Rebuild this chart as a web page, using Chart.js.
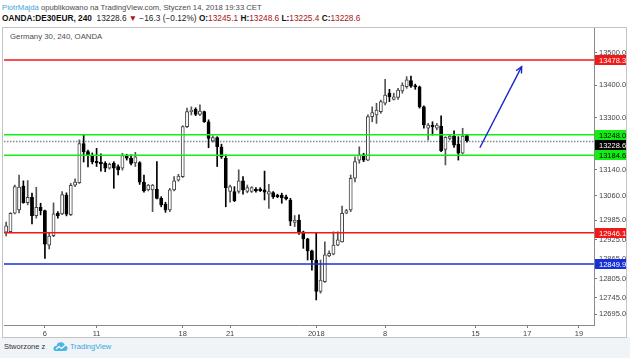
<!DOCTYPE html>
<html><head><meta charset="utf-8">
<script src="https://cdn.jsdelivr.net/npm/chart.js@4/dist/chart.umd.min.js"></script>
<style>
html,body{margin:0;padding:0;background:#fff;width:630px;height:358px;overflow:hidden;font-family:"Liberation Sans",Arial,sans-serif;}
.t{position:absolute;white-space:nowrap;line-height:1;}
#h1{left:2px;top:4px;font-size:7.7px;color:#4a4a4a;}
#h2{left:2px;top:14px;font-size:8.3px;color:#222;}
#h2 b{font-weight:bold;color:#111;}
.r{color:#a51515;}
#title{left:10px;top:33px;font-size:7.8px;color:#4d4d4d;}
#frame{position:absolute;left:2px;top:27px;width:623px;height:309px;border:1px solid #c3c3c3;}
#foot{position:absolute;left:0;top:337px;width:630px;height:21px;background:#f0f3f7;}
#f1{left:4px;top:343px;font-size:7.5px;color:#333;}
#f2{left:70px;top:343px;font-size:7.5px;color:#38a8de;}
#logo{position:absolute;left:53px;top:341px;}
canvas{position:absolute;left:0;top:0;}
</style></head>
<body>
<div id="foot"></div>
<div id="frame"></div>
<div class="t" id="h1"><span style="color:#3aa3dc">PiotrMajda</span> opublikowano na TradingView.com, Styczeń 14, 2018 19:33 CET</div>
<div class="t" id="h2"><b>OANDA:DE30EUR, 240</b>&nbsp; 13228.6 <span class="r">▼</span> −16.3 (−0.12%) <b>O:</b><span class="r">13245.1</span> <b>H:</b><span class="r">13248.6</span> <b>L:</b><span class="r">13225.4</span> <b>C:</b><span class="r">13228.6</span></div>
<div class="t" id="title">Germany 30, 240, OANDA</div>
<div class="t" id="f1">Stworzone z</div>
<svg id="logo" width="15" height="11" viewBox="0 0 15 11"><path d="M3 10 Q0 10 0.5 7 Q1 4.5 3.5 5 Q4 1 8 1.2 Q11.5 1.5 11.8 4.8 Q14.8 5 14.5 7.8 Q14 10 12 10 Z" fill="#4bb5e6"/><path d="M3 8 L6 5.5 L8.5 7.5 L12 4.5" stroke="#fff" stroke-width="1.2" fill="none"/></svg>
<div class="t" id="f2">TradingView</div>
<canvas id="c" width="630" height="358"></canvas>
<script>
// ---- data ----
const candleOpen = [12948,12949,13006,13016,13090,13039,13055,12999,13024,13014,12908,12937,13006,13004,13062,13002,13093,13100,13221,13196,13182,13166,13164,13160,13145,13161,13150,13145,13184,13176,13161,13162,13102,13078,13078,13080,13052,13034,13016,13078,13108,13119,13273,13319,13326,13311,13319,13288,13229,13239,13211,13176,13073,13073,13073,13106,13073,13073,13080,13078,13078,13065,13070,13062,13062,13057,13047,12978,12984,12949,12927,12890,12862,12765,12795,12875,12880,12908,12918,13006,13016,13114,13170,13186,13170,13304,13309,13319,13345,13376,13357,13363,13383,13396,13415,13398,13396,13334,13268,13278,13268,13275,13203,13237,13244,13219,13191,13245.1];
const candleHigh = [12979,13008,13093,13124,13106,13107,13068,13086,13037,13016,12947,13038,13011,13073,13069,13098,13112,13232,13249,13201,13192,13206,13189,13165,13161,13165,13155,13191,13188,13186,13194,13165,13124,13095,13095,13165,13057,13040,13083,13119,13126,13276,13330,13334,13331,13340,13321,13294,13245,13242,13219,13186,13093,13088,13140,13119,13093,13088,13085,13085,13136,13095,13073,13065,13068,13062,13052,12999,13001,12951,12929,12893,12947,12862,12918,12890,12949,12949,13028,13018,13124,13180,13211,13191,13309,13334,13345,13355,13419,13388,13376,13391,13408,13427,13429,13404,13398,13337,13283,13288,13283,13306,13242,13247,13260,13242,13268,13248.6];
const candleLow = [12936,12946,13004,13007,13037,13032,12973,12991,13001,12867,12896,12934,12991,13002,12998,12999,13088,13098,13164,13149,13158,13150,13136,13134,13142,13083,13124,13139,13170,13155,13150,13095,13071,13075,13011,13050,13026,13009,13011,13075,13105,13116,13270,13309,13307,13307,13286,13208,13225,13150,13175,13026,13040,13042,13068,13065,13069,13070,13071,13073,13047,13021,13052,13054,13037,13047,12968,12965,12941,12898,12862,12831,12739,12760,12793,12872,12878,12906,12917,13005,13011,13103,13160,13165,13168,13288,13283,13314,13340,13350,13355,13357,13376,13391,13394,13388,13330,13268,13232,13247,13263,13196,13155,13232,13209,13170,13189,13225.4];
const candleClose = [12967,13006,13088,13087,13039,13055,12998,13024,13014,12911,12936,13004,12998,13064,13003,13092,13102,13221,13195,13186,13164,13161,13158,13145,13157,13145,13140,13184,13176,13160,13180,13102,13075,13093,13093,13052,13032,13016,13078,13106,13121,13273,13319,13324,13311,13321,13288,13237,13239,13211,13180,13085,13088,13045,13106,13078,13085,13085,13075,13076,13071,13073,13057,13057,13054,13050,12982,12985,12948,12927,12890,12862,12765,12800,12878,12883,12908,12924,13006,13014,13114,13165,13186,13170,13304,13316,13324,13350,13370,13365,13365,13386,13401,13417,13398,13395,13334,13278,13278,13273,13278,13199,13240,13244,13216,13191,13244,13228.6];
const slotCount = 137;
const dayTickSlots = [9, 21, 41, 52, 72, 88, 109, 121, 133];
const dayTickTexts = ['6', '11', '18', '21', '2018', '8', '15', '17', '19'];
const priceTicks = [13500, 13400, 13300, 13140, 13060, 12985, 12925, 12865, 12805, 12745, 12695];
const levelPrices = [13478.3, 13248.0, 13184.6, 12946.1, 12849.9];
const lastPrice = 13228.6;
const arrowStart = [110, 13208];
const arrowEnd = [119.7, 13458];
const priceMin = 12661.8, priceMax = 13576.9;

// ---- styles ----
const levelColors = ['#f01818', '#12ee12', '#12ee12', '#f01818', '#1830d8'];
const levelTextColors = ['#fff', '#000', '#000', '#fff', '#fff'];

const slots = Array.from({length: slotCount}, (_, i) => i);
const tickText = i => { const k = dayTickSlots.indexOf(i); return k >= 0 ? dayTickTexts[k] : ''; };
const isUp = i => candleClose[i] >= candleOpen[i];

Chart.defaults.font.family = '"Liberation Sans", Arial, sans-serif';

const overlay = {
  id: 'overlay',
  beforeDatasetsDraw(chart) {
    const {ctx, chartArea: a, scales: {y}} = chart;
    const py = Math.round(y.getPixelForValue(lastPrice)) + 0.5;
    ctx.save();
    ctx.strokeStyle = '#8c8c8c'; ctx.lineWidth = 1.3; ctx.setLineDash([1.5, 1.5]);
    ctx.beginPath(); ctx.moveTo(a.left, py); ctx.lineTo(a.right, py); ctx.stroke();
    ctx.restore();
  },
  afterDatasetsDraw(chart) {
    const {ctx, chartArea: a, scales: {x, y}} = chart;
    ctx.save();
    levelPrices.forEach((p, k) => {
      const py = y.getPixelForValue(p);
      ctx.strokeStyle = levelColors[k]; ctx.lineWidth = 1.6;
      ctx.beginPath(); ctx.moveTo(a.left, py); ctx.lineTo(a.right, py); ctx.stroke();
    });
    const x1 = x.getPixelForValue(arrowStart[0]), y1 = y.getPixelForValue(arrowStart[1]);
    const x2 = x.getPixelForValue(arrowEnd[0]), y2 = y.getPixelForValue(arrowEnd[1]);
    ctx.strokeStyle = '#1a26c8'; ctx.lineWidth = 1.4;
    ctx.beginPath(); ctx.moveTo(x1, y1); ctx.lineTo(x2, y2); ctx.stroke();
    const ang = Math.atan2(y2 - y1, x2 - x1), L = 7;
    ctx.beginPath();
    ctx.moveTo(x2 - L * Math.cos(ang - 0.45), y2 - L * Math.sin(ang - 0.45));
    ctx.lineTo(x2, y2);
    ctx.lineTo(x2 - L * Math.cos(ang + 0.45), y2 - L * Math.sin(ang + 0.45));
    ctx.stroke();
    ctx.restore();
  },
  afterDraw(chart) {
    const {ctx, chartArea: a, scales: {y}} = chart;
    ctx.save();
    ctx.font = '7.5px "Liberation Sans", Arial, sans-serif';
    ctx.textBaseline = 'middle'; ctx.textAlign = 'left';
    const boxes = levelPrices.map((p, k) => ({p, bg: levelColors[k], fg: levelTextColors[k]}));
    boxes.push({p: lastPrice, bg: '#000', fg: '#fff'});
    boxes.forEach(b => { b.y = y.getPixelForValue(b.p); });
    boxes.sort((m, n) => m.y - n.y);
    const H = 10;
    for (let i = 1; i < boxes.length; i++) {
      if (boxes[i].y - boxes[i - 1].y < H) boxes[i].y = boxes[i - 1].y + H;
    }
    boxes.forEach(b => {
      ctx.fillStyle = b.bg; ctx.fillRect(a.right + 1, Math.round(b.y - H / 2), 31, H);
      ctx.fillStyle = b.fg; ctx.fillText(b.p.toFixed(1), a.right + 5, Math.round(b.y - H / 2) + H / 2 + 0.5);
    });
    ctx.restore();
  }
};

new Chart(document.getElementById('c'), {
  type: 'bar',
  data: {
    labels: slots,
    datasets: [
      {
        data: candleLow.map((l, i) => [l, candleHigh[i]]),
        barThickness: 1,
        backgroundColor: ctx => isUp(ctx.dataIndex) ? '#555' : '#000',
        grouped: false, order: 2, minBarLength: 1
      },
      {
        data: candleOpen.map((o, i) => [o, candleClose[i]]),
        barThickness: 3.2,
        backgroundColor: ctx => isUp(ctx.dataIndex) ? '#fff' : '#000',
        borderColor: ctx => isUp(ctx.dataIndex) ? '#444' : '#000',
        borderWidth: 1, borderSkipped: false,
        grouped: false, order: 1, minBarLength: 1.5
      }
    ]
  },
  options: {
    responsive: false, animation: false,
    layout: {padding: {left: 4, right: 4, top: 28, bottom: 21}},
    plugins: {legend: {display: false}, tooltip: {enabled: false}},
    scales: {
      x: {
        type: 'category', offset: true,
        grid: {display: true, offset: false, drawOnChartArea: false, drawTicks: true, tickLength: 3,
               color: ctx => tickText(ctx.index) ? '#777' : 'rgba(0,0,0,0)'},
        border: {display: true, color: '#8a8a8a', width: 1},
        ticks: {autoSkip: false, maxRotation: 0, minRotation: 0, padding: 1, color: '#444',
                font: {size: 7.5}, callback: (v, i) => tickText(i)},
        afterFit: s => { s.height = 12; }
      },
      y: {
        position: 'right', min: priceMin, max: priceMax,
        afterBuildTicks: s => { s.ticks = priceTicks.map(v => ({value: v})); },
        grid: {drawOnChartArea: false, drawTicks: true, tickLength: 3, color: '#777'},
        border: {display: true, color: '#8a8a8a', width: 1},
        ticks: {color: '#444', padding: 2, font: {size: 7.5}, callback: v => Number(v).toFixed(1)},
        afterFit: s => { s.width = 32; }
      }
    }
  },
  plugins: [overlay]
});
</script>
</body></html>
